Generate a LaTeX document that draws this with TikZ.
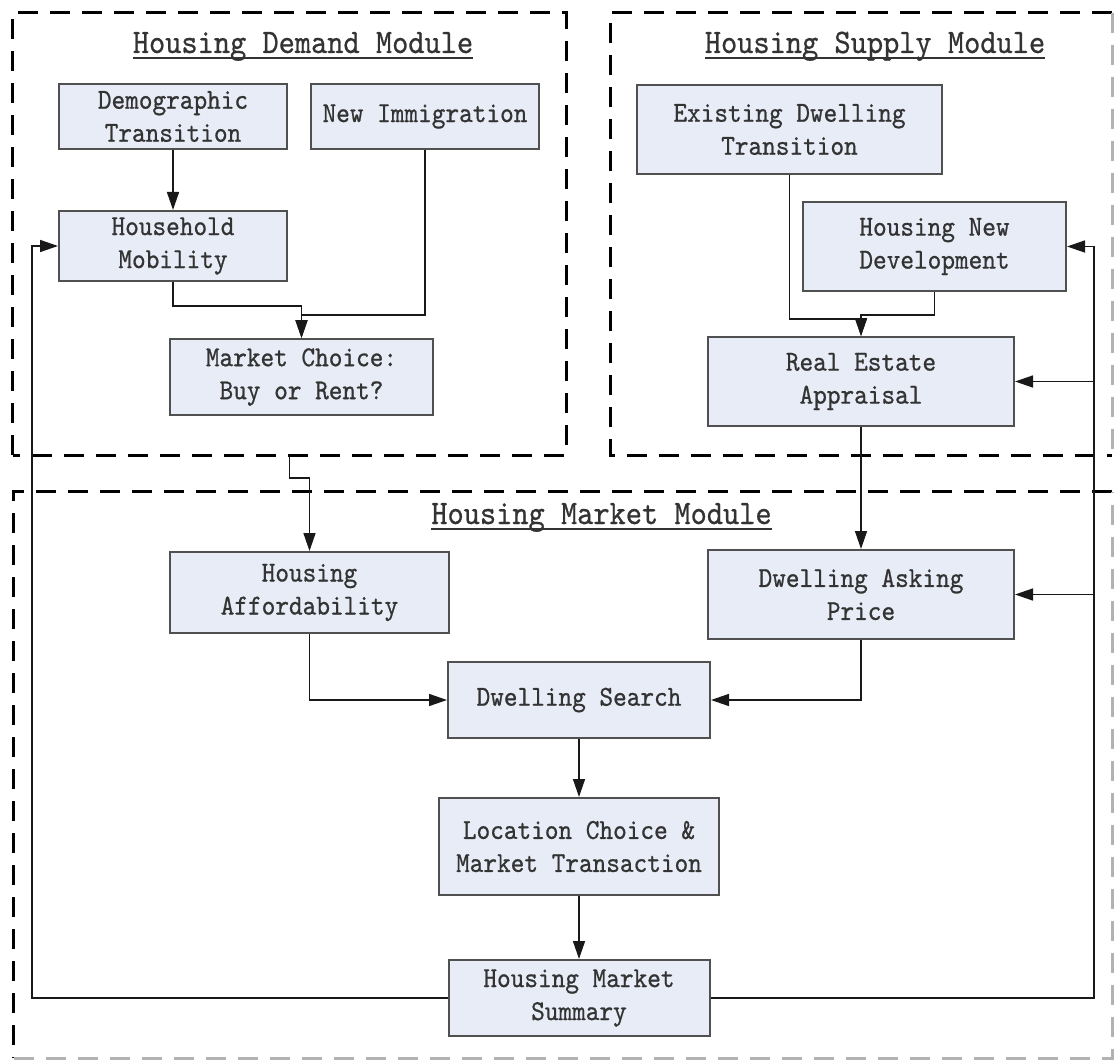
\documentclass[tikz,border=0pt]{standalone}
\usepackage{fontspec}
\usetikzlibrary{positioning,arrows.meta}
\newfontfamily\diafont{lmmono10-regular.otf}[FakeStretch=0.9, FakeBold=0.7]
\definecolor{boxfill}{RGB}{231,236,246}
\definecolor{boxline}{RGB}{80,80,80}
\definecolor{inkgray}{RGB}{51,51,51}
\newcommand{\ultitle}[1]{\setbox0\hbox{#1}\rlap{\rule[-5.8pt]{\wd0}{1.8pt}}\box0}

\begin{document}
\begin{tikzpicture}[x=1pt, y=-1pt,
        box/.style = {draw=boxline, line width=2pt, fill=boxfill, align=center, inner sep=0pt, text=inkgray, font=\diafont\fontsize{28.9}{33}\selectfont},
        module/.style = {inner sep=0pt},
        border/.style = {line width=3pt, dash pattern=on 20pt off 12pt},
        faint/.style = {draw=black!30},
        title/.style = {anchor=base, inner sep=0pt, text=inkgray, font=\diafont\fontsize{34.3}{40}\selectfont},
        arr/.style = {draw=black!90, line width=1.5pt, -{Triangle[length=18pt, width=12pt]}},
        node distance=60pt]
        \useasboundingbox (0,0) rectangle (1115,1064);
        \node[module, minimum width=553pt, minimum height=442pt] (dm) at (289.5,234) {};
        \node[module, minimum width=501pt, minimum height=442pt] (sm) at (861.5,234) {};
        \node[module, minimum width=1098pt, minimum height=566pt] (mm) at (563,775) {};
        \draw[border] (dm.south west) rectangle (dm.north east);
        \draw[border] (sm.north east) -- (sm.north west) -- (sm.south west) -- (sm.south east);
        \draw[border, faint] (sm.north east) -- (sm.south east);
        \draw[border] (mm.north east) -- (mm.north west) -- (mm.south west);
        \draw[border, faint] (mm.south west) -- (mm.south east) -- (mm.north east);
        \node[title] (dmt) at (303,53) {\ultitle{Housing Demand Module}};
        \node[title] (smt) at (875,53) {\ultitle{Housing Supply Module}};
        \node[title] (mmt) at (601.5,524) {\ultitle{Housing Market Module}};
        \node[box, minimum width=228pt, minimum height=65pt] (demo) at (173,116.5) {Demographic\\Transition};
        \node[box, minimum width=228pt, minimum height=65pt] (immi) [right=22pt of demo] {New Immigration};
        \node[box, minimum width=228pt, minimum height=70pt] (mobil) [below=60pt of demo] {Household\\Mobility};
        \node[box, minimum width=263pt, minimum height=76pt] (choice) at (301.5,377) {Market Choice:\\Buy or Rent?};
        \node[box, minimum width=305pt, minimum height=89pt] (exist) at (789.5,129.5) {Existing Dwelling\\Transition};
        \node[box, minimum width=263pt, minimum height=89pt] (newdev) at (934.5,246.5) {Housing New\\Development};
        \node[box, minimum width=306pt, minimum height=89pt] (apprais) at (861,381.5) {Real Estate\\Appraisal};
        \node[box, minimum width=306pt, minimum height=89pt] (asking) [below=122pt of apprais] {Dwelling Asking\\Price};
        \node[box, minimum width=279pt, minimum height=81pt] (afford) at (309.5,592.5) {Housing\\Affordability};
        \node[box, minimum width=262pt, minimum height=76pt] (search) at (579,700) {Dwelling Search};
        \node[box, minimum width=280pt, minimum height=97pt] (locate) [below=58pt of search] {Location Choice \&\\Market Transaction};
        \node[box, minimum width=261pt, minimum height=76pt] (summary) [below=63pt of locate] {Housing Market\\Summary};
        \coordinate (leftbus) at (32,0);
        \coordinate (rightbus) at (1094,0);
        \draw[arr] (demo) -- (mobil);
        \draw[arr] (mobil.south) -- ++(0,24) -| (choice.north);
        \draw[arr] (immi.south) -- ++(0,165) -| (choice.north);
        \draw[arr] (dm.south) -- ++(0,23) -| (afford.north);
        \draw[arr] (exist.south) -- ++(0,144) -| (apprais.north);
        \draw[arr] (newdev.south) -- ++(0,23) -| (apprais.north);
        \draw[arr] (apprais) -- (asking);
        \draw[arr] (afford.south) |- (search.west);
        \draw[arr] (asking.south) |- (search.east);
        \draw[arr] (search) -- (locate);
        \draw[arr] (locate) -- (summary);
        \draw[arr] (summary.west) -| (leftbus |- mobil.west) -- (mobil.west);
        \draw[arr] (summary.east) -| (rightbus |- newdev.east) -- (newdev.east);
        \draw[arr] (rightbus |- apprais.east) -- (apprais.east);
        \draw[arr] (rightbus |- asking.east) -- (asking.east);
\end{tikzpicture}
\end{document}
